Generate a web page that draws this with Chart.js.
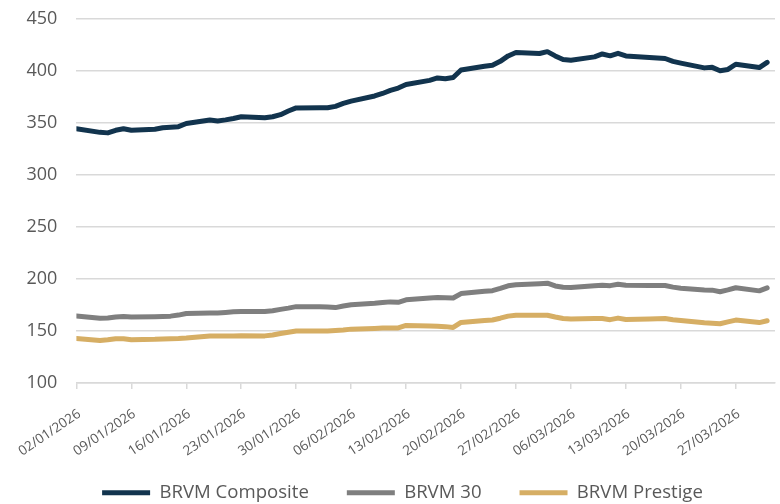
<!DOCTYPE html>
<html>
<head>
<meta charset="utf-8">
<script src="https://cdn.jsdelivr.net/npm/chart.js@4/dist/chart.umd.min.js"></script>
<style>
  html, body { margin: 0; padding: 0; background: #ffffff; }
  #wrap { width: 780px; height: 504px; position: relative; }
</style>
</head>
<body>
<div id="wrap"><canvas id="c" width="780" height="504"></canvas></div>
<script>
const dates = [
  '02/01/2026',
  '05/01/2026','06/01/2026','07/01/2026','08/01/2026','09/01/2026',
  '12/01/2026','13/01/2026','14/01/2026','15/01/2026','16/01/2026',
  '19/01/2026','20/01/2026','21/01/2026','22/01/2026','23/01/2026',
  '26/01/2026','27/01/2026','28/01/2026','29/01/2026','30/01/2026',
  '02/02/2026','03/02/2026','04/02/2026','05/02/2026','06/02/2026',
  '09/02/2026','10/02/2026','11/02/2026','12/02/2026','13/02/2026',
  '16/02/2026','17/02/2026','18/02/2026','19/02/2026','20/02/2026',
  '23/02/2026','24/02/2026','25/02/2026','26/02/2026','27/02/2026',
  '02/03/2026','03/03/2026','04/03/2026','05/03/2026','06/03/2026',
  '09/03/2026','10/03/2026','11/03/2026','12/03/2026','13/03/2026',
  '16/03/2026','17/03/2026','18/03/2026','19/03/2026','20/03/2026',
  '23/03/2026','24/03/2026','25/03/2026','26/03/2026','27/03/2026',
  '30/03/2026','31/03/2026'
];

const composite = [
  344.5,
  341.0, 340.5, 343.0, 344.5, 343.0,
  344.0, 345.5, 346.0, 346.5, 349.5,
  352.8, 352.0, 353.0, 354.3, 356.0,
  355.0, 356.0, 358.0, 361.5, 364.5,
  364.7, 364.6, 366.0, 368.8, 371.0,
  376.0, 378.4, 381.3, 383.6, 387.0,
  391.0, 393.3, 392.6, 393.8, 401.0,
  404.5, 405.5, 409.3, 414.5, 417.8,
  416.8, 418.6, 414.5, 411.0, 410.3,
  413.6, 416.4, 414.6, 417.0, 414.5,
  413.0, 412.5, 412.0, 409.3, 407.6,
  403.0, 403.5, 400.3, 401.5, 406.5,
  403.3, 408.3
];

const brvm30 = [
  164.5,
  162.3, 162.5, 163.5, 164.0, 163.5,
  163.8, 164.0, 164.3, 165.3, 166.8,
  167.2, 167.3, 167.8, 168.4, 168.7,
  168.7, 169.5, 170.8, 172.0, 173.4,
  173.3, 173.0, 172.5, 174.0, 175.3,
  176.6, 177.3, 178.0, 177.6, 180.0,
  181.8, 182.2, 182.0, 181.7, 186.0,
  188.2, 188.8, 191.0, 193.5, 194.5,
  195.5, 196.0, 193.3, 192.0, 191.9,
  193.6, 194.0, 193.6, 195.0, 194.0,
  193.8, 193.8, 193.8, 192.2, 191.2,
  189.4, 189.3, 187.8, 189.5, 191.6,
  188.6, 191.5
];

const prestige = [
  142.7,
  140.8, 141.5, 142.5, 142.5, 141.5,
  142.0, 142.4, 142.6, 142.8, 143.2,
  145.2, 145.2, 145.1, 145.3, 145.5,
  145.3, 146.2, 147.6, 148.8, 150.0,
  150.0, 150.0, 150.5, 151.0, 151.8,
  152.5, 152.8, 153.0, 152.9, 155.3,
  154.9, 154.6, 154.2, 153.4, 158.2,
  160.0, 160.6, 162.3, 164.3, 165.2,
  165.2, 165.2, 163.5, 162.0, 161.5,
  162.0, 162.0, 160.9, 162.4, 161.0,
  161.5, 161.7, 162.0, 160.9, 160.2,
  158.0, 157.5, 157.0, 158.8, 160.5,
  158.1, 159.8
];

const tickLabels = [
  '02/01/2026','09/01/2026','16/01/2026','23/01/2026','30/01/2026',
  '06/02/2026','13/02/2026','20/02/2026','27/02/2026',
  '06/03/2026','13/03/2026','20/03/2026','27/03/2026'
];

const seriesNames = ['BRVM Composite', 'BRVM 30', 'BRVM Prestige'];

function toUTC(s) {
  const p = s.split('/').map(Number);
  return Date.UTC(p[2], p[1] - 1, p[0]);
}
const base = toUTC(dates[0]);
function dayOf(s) { return Math.round((toUTC(s) - base) / 86400000); }

function pts(values) {
  return values.map((v, i) => ({ x: dayOf(dates[i]), y: v }));
}

const tickDays = tickLabels.map(dayOf);
const labelByDay = {};
tickLabels.forEach((t, i) => { labelByDay[tickDays[i]] = t; });
const lastDay = dayOf(dates[dates.length - 1]);

const FONT = "'Open Sans', 'DejaVu Sans', sans-serif";
const TXT = '#595959';
const GRID = '#d9d9d9';

function ds(label, data, color) {
  return {
    label: label,
    data: pts(data),
    borderColor: color,
    backgroundColor: color,
    borderWidth: 5,
    pointRadius: 0,
    pointHoverRadius: 0,
    tension: 0,
    fill: false,
    borderCapStyle: 'round',
    borderJoinStyle: 'round'
  };
}

// place the legend block where the reference has it
const legendNudge = {
  id: 'legendNudge',
  afterLayout(chart) {
    const lg = chart.legend;
    if (!lg) return;
    lg.top += 8; lg.bottom += 8;
    lg.left += 15; lg.right += 15;
  }
};

new Chart(document.getElementById('c'), {
  type: 'line',
  data: {
    datasets: [
      ds(seriesNames[0], composite, '#12344e'),
      ds(seriesNames[1], brvm30, '#7f7f7f'),
      ds(seriesNames[2], prestige, '#d6ae64')
    ]
  },
  plugins: [legendNudge],
  options: {
    responsive: false,
    animation: false,
    events: [],
    layout: { padding: { left: 0, right: 5, top: 19, bottom: 0 } },
    plugins: {
      tooltip: { enabled: false },
      legend: {
        position: 'bottom',
        labels: {
          usePointStyle: true,
          pointStyle: 'line',
          pointStyleWidth: 48,
          padding: 38,
          color: TXT,
          font: { family: FONT, size: 18.6 }
        }
      }
    },
    scales: {
      x: {
        type: 'linear',
        min: 0,
        max: lastDay + 1,
        afterBuildTicks: (scale) => { scale.ticks = tickDays.map(v => ({ value: v })); },
        afterFit: (scale) => {
          scale.height = 54.4;
          // let the rotated date labels run below the axis box without clipping
          scale._computeLabelArea = function () {
            return { top: this.top, left: 0, bottom: this.chart.height, right: this.chart.width };
          };
        },
        border: { display: true, color: GRID, width: 1.5 },
        grid: { display: true, drawOnChartArea: false, drawTicks: true, tickLength: 6, color: GRID, lineWidth: 1.5 },
        ticks: {
          autoSkip: false,
          minRotation: 34,
          maxRotation: 34,
          padding: 17,
          labelOffset: 3,
          color: TXT,
          font: { family: FONT, size: 13.5 },
          callback: (v) => labelByDay[v] || ''
        }
      },
      y: {
        min: 100,
        max: 450,
        afterFit: (scale) => { scale.width = 71; scale.paddingTop = 0; scale.paddingBottom = 0; },
        border: { display: false },
        grid: { color: GRID, lineWidth: 1.5, drawTicks: false },
        ticks: {
          stepSize: 50,
          padding: 19,
          color: TXT,
          font: { family: FONT, size: 18 }
        }
      }
    }
  }
});
</script>
</body>
</html>
